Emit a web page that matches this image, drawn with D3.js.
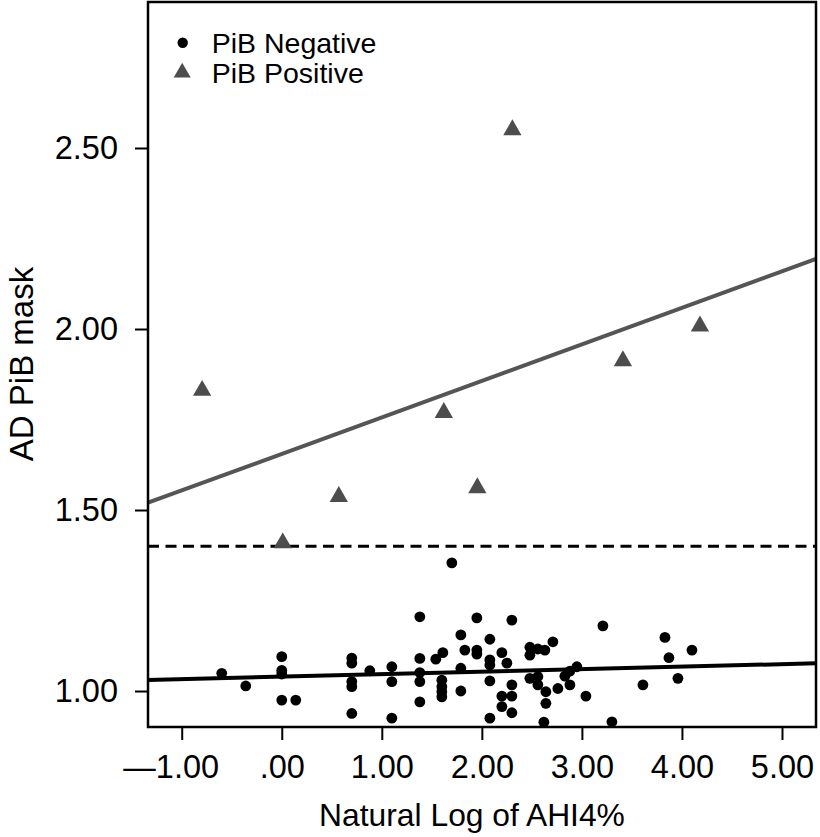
<!DOCTYPE html>
<html>
<head>
<meta charset="utf-8">
<script src="https://cdn.jsdelivr.net/npm/d3@7"></script>
<style>
  html, body { margin: 0; padding: 0; background: #fff; }
  svg { display: block; font-family: "Liberation Sans", Arial, Helvetica, sans-serif; }
</style>
</head>
<body>
<svg id="chart" width="820" height="837"></svg>
<script>
// ---- data ----
const negX = [-0.60,-0.36,0.00,0.00,0.00,0.00,0.14,0.70,0.70,0.70,0.70,0.70,0.88,1.10,1.10,1.10,
  1.38,1.38,1.38,1.38,1.38,1.54,1.61,1.60,1.60,1.60,1.60,1.70,1.79,1.83,1.79,1.79,
  1.95,1.95,1.95,2.08,2.08,2.08,2.08,2.08,2.20,2.25,2.20,2.20,2.30,2.30,2.30,2.30,
  2.48,2.48,2.48,2.56,2.63,2.56,2.56,2.64,2.64,2.62,2.71,2.76,2.83,2.88,2.95,2.88,
  3.04,3.21,3.30,3.61,3.83,3.87,3.96,4.10];
const negY = [1.049,1.014,1.095,1.057,1.047,0.975,0.975,1.091,1.077,1.026,1.012,0.938,1.056,1.067,1.026,0.925,
  1.205,1.090,1.051,1.026,0.970,1.088,1.106,1.030,1.012,0.998,0.984,1.354,1.155,1.113,1.063,1.000,
  1.202,1.113,1.102,1.143,1.086,1.072,1.028,0.925,1.106,1.077,0.986,0.957,1.196,1.017,0.986,0.940,
  1.121,1.099,1.035,1.116,1.113,1.040,1.017,0.998,0.966,0.914,1.136,1.007,1.041,1.055,1.067,1.017,
  0.986,1.180,0.915,1.017,1.148,1.092,1.035,1.113];
const posX = [-0.796,0.01,0.57,1.62,1.955,2.305,3.41,4.18];
const posY = [1.830,1.409,1.537,1.769,1.561,2.550,1.912,2.008];

// fitted lines: [intercept, slope]
const negFit = [1.0397, 0.0069];
const posFit = [1.655, 0.1009];
const cutoff = [1.40];

const xTicks = [-1, 0, 1, 2, 3, 4, 5];
const xTickLabels = ["\u20141.00", ".00", "1.00", "2.00", "3.00", "4.00", "5.00"];
const yTicks = [1.0, 1.5, 2.0, 2.5];
const yTickLabels = ["1.00", "1.50", "2.00", "2.50"];
const legendLabels = ["PiB Negative", "PiB Positive"];
const xTitle = "Natural Log of AHI4%";
const yTitle = "AD PiB mask";

// ---- layout ----
const L = 148, R = 816, T = 2, B = 727;
const x = d3.scaleLinear().domain([-1.337, 5.34]).range([L, R]);
const y = d3.scaleLinear().domain([0.9006, 2.9033]).range([B, T]);

const svg = d3.select("#chart");
const TICKFONT = 32.5;
const FF = "'Liberation Sans', Arial, sans-serif";

// x axis
const xAxis = svg.append("g")
  .attr("transform", `translate(0,${B})`)
  .call(d3.axisBottom(x).tickValues(xTicks)
    .tickFormat((d, i) => xTickLabels[i]).tickSize(13).tickPadding(17));
xAxis.select(".domain").remove();
xAxis.selectAll("line").attr("stroke", "#000").attr("stroke-width", 2);
xAxis.selectAll("text").attr("font-size", TICKFONT).attr("fill", "#000")
  .attr("font-family", FF)
  .attr("dy", "0.66em")
  .attr("dx", (d, i) => i === 0 ? -11 : 0);

// y axis
const yAxis = svg.append("g")
  .attr("transform", `translate(${L},0)`)
  .call(d3.axisLeft(y).tickValues(yTicks)
    .tickFormat((d, i) => yTickLabels[i]).tickSize(13).tickPadding(17));
yAxis.select(".domain").remove();
yAxis.selectAll("line").attr("stroke", "#000").attr("stroke-width", 2);
yAxis.selectAll("text").attr("font-size", TICKFONT).attr("fill", "#000")
  .attr("font-family", FF);

// clip
svg.append("clipPath").attr("id", "clip")
  .append("rect").attr("x", L).attr("y", T).attr("width", R - L).attr("height", B - T);
const plot = svg.append("g").attr("clip-path", "url(#clip)");

const [x0, x1] = x.domain();
const line = d3.line().x(d => x(d[0])).y(d => y(d[1]));

// cutoff dashed line
plot.append("path")
  .datum([[x0, cutoff[0]], [x1, cutoff[0]]])
  .attr("d", line).attr("fill", "none")
  .attr("stroke", "#000").attr("stroke-width", 3)
  .attr("stroke-dasharray", "11,6.5");

// negative fit line
plot.append("path")
  .datum([[x0, negFit[0] + negFit[1] * x0], [x1, negFit[0] + negFit[1] * x1]])
  .attr("d", line).attr("fill", "none")
  .attr("stroke", "#000").attr("stroke-width", 4);

// positive fit line
plot.append("path")
  .datum([[x0, posFit[0] + posFit[1] * x0], [x1, posFit[0] + posFit[1] * x1]])
  .attr("d", line).attr("fill", "none")
  .attr("stroke", "#555555").attr("stroke-width", 4);

// negative points
plot.selectAll("circle.neg")
  .data(negX.map((v, i) => [v, negY[i]]))
  .join("circle").attr("class", "neg")
  .attr("cx", d => x(d[0])).attr("cy", d => y(d[1]))
  .attr("r", 5.4).attr("fill", "#000");

// positive points
const tri = d3.symbol().type(d3.symbolTriangle).size(145);
plot.selectAll("path.pos")
  .data(posX.map((v, i) => [v, posY[i]]))
  .join("path").attr("class", "pos")
  .attr("d", tri)
  .attr("transform", d => `translate(${x(d[0])},${y(d[1])})`)
  .attr("fill", "#4d4d4d");

// frame
svg.append("rect")
  .attr("x", L).attr("y", T).attr("width", R - L).attr("height", B - T)
  .attr("fill", "none").attr("stroke", "#000").attr("stroke-width", 2.5);

// legend
const lg = svg.append("g");
lg.append("circle").attr("cx", 182.7).attr("cy", 42.7).attr("r", 5.2).attr("fill", "#000");
lg.append("path").attr("d", d3.symbol().type(d3.symbolTriangle).size(125))
  .attr("transform", "translate(182.2,72.5)").attr("fill", "#4d4d4d");
lg.selectAll("text").data(legendLabels).join("text")
  .attr("x", 211.7).attr("y", (d, i) => [52.5, 82.5][i])
  .attr("font-size", 28.5).attr("fill", "#000").text(d => d);

// titles
svg.append("text")
  .attr("x", 472).attr("y", 826)
  .attr("text-anchor", "middle").attr("font-size", 31.8).attr("fill", "#000")
  .text(xTitle);
svg.append("text")
  .attr("transform", "translate(33,364) rotate(-90)")
  .attr("text-anchor", "middle").attr("font-size", 33).attr("fill", "#000")
  .text(yTitle);
</script>
</body>
</html>
